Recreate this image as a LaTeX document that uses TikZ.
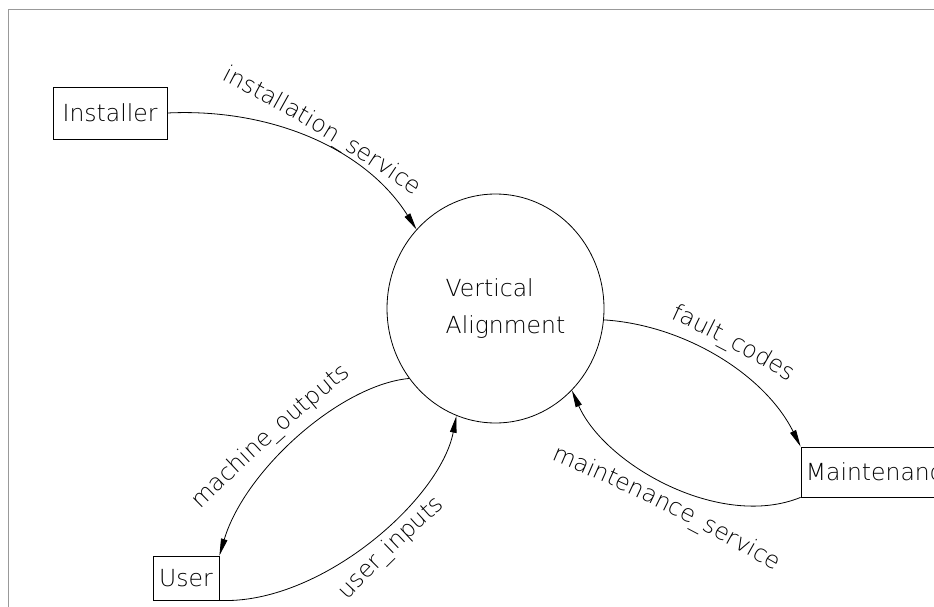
\documentclass[tikz,border=0pt]{standalone}
\usepackage{fontspec}
\IfFontExistsTF{DejaVu Sans ExtraLight}{\setmainfont{DejaVu Sans ExtraLight}}{\setmainfont{DejaVu Sans}}
\usetikzlibrary{arrows.meta,shapes.geometric,decorations.text,calc}
\newcommand\lblfont{\fontsize{23.5}{28}\selectfont}
% #1,#2 centre of baseline (page px), #3 heading, #4 half length, #5 text, #6 bend
\newcommand\arclabel[6]{%
  \path[decorate,decoration={text along path,text align=center,text={|\lblfont|#5}}]
    ($(#1,-#2)+(#3+180:#4)+(#3-90:{0.587*#4*sin(#6)})$) to[bend left=#6]
    ($(#1,-#2)+(#3:#4)+(#3-90:{0.587*#4*sin(#6)})$);}
\begin{document}
\begin{tikzpicture}[x=1pt,y=1pt,
  flow/.style={line width=0.8pt,-{Triangle[length=17pt,width=6.5pt]}},
  entity/.style={draw,line width=0.8pt,rectangle,inner sep=0pt,font=\lblfont},
  process/.style={draw,line width=0.8pt,ellipse,inner sep=0pt,minimum width=217pt,
    minimum height=229pt,font=\fontsize{23.5}{37}\selectfont,align=left},
  frame/.style={draw=black!40,line width=0.8pt}]
\useasboundingbox (0,0) rectangle (934,-607);
\draw[frame] (8,-607) -- (8,-9) -- (934,-9);
\node[entity,minimum width=114pt,minimum height=52pt] (inst) at (110,-113) {Installer};
\node[entity,minimum width=66pt,minimum height=44pt] (user) at (186,-578) {User};
\node[entity,minimum width=161pt,minimum height=50pt] (maint) at (881.5,-472) {Maintenance};
\node[process] (va) at (495.5,-308.5) {\hspace*{20pt}Vertical\\\hspace*{20pt}Alignment};
\draw[flow] (inst.east) .. controls (270,-108) and (365,-148) .. (va.135);
\draw[flow] (va.-6) .. controls (685,-325) and (765,-375) .. (maint.north west);
\draw[flow] (maint.south west) .. controls (720,-530) and (605,-465) .. (va.-47);
\draw[flow] (va.219) .. controls (340,-385) and (245,-470) .. (user.north east);
\draw[flow] (user.south east) .. controls (320,-605) and (440,-500) .. (va.250);
\arclabel{320}{134}{-31}{135}{installation{\_}service}{4}
\arclabel{731}{348}{-28}{90}{fault{\_}codes}{4}
\arclabel{665}{511}{-26.5}{150}{maintenance{\_}service}{4}
\arclabel{274}{440}{42}{125}{machine{\_}outputs}{3}
\arclabel{395}{552}{44}{80}{user{\_}inputs}{3}
\end{tikzpicture}
\end{document}
